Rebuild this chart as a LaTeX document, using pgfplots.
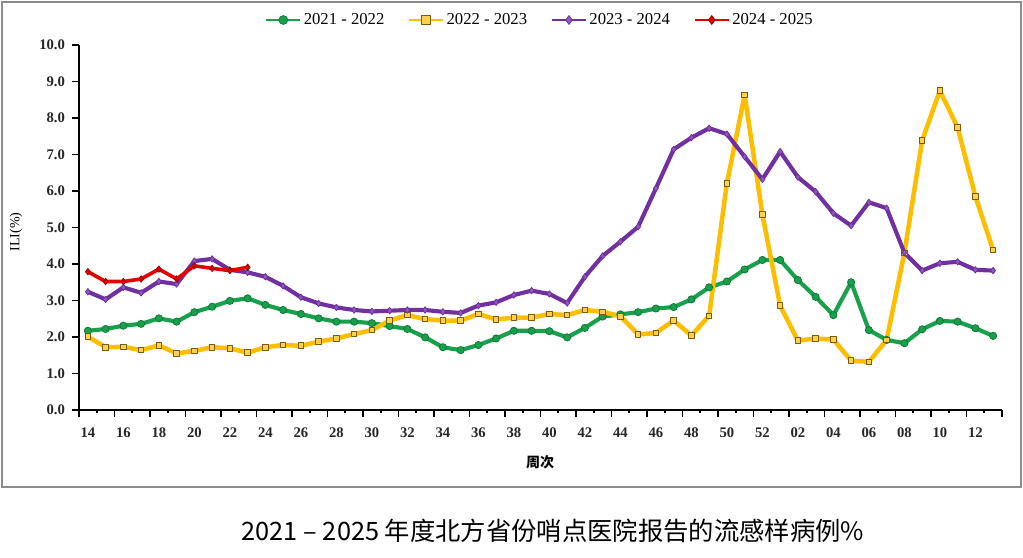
\documentclass[border=0pt]{standalone}
\usepackage{pgfplots}
\pgfplotsset{compat=1.18}
\usepackage{pgfplotstable}
\usepackage{fontspec}
\setmainfont{Liberation Serif}
\newfontfamily\cjk{Noto Sans CJK SC}

\definecolor{cGreen}{RGB}{24,160,76}
\definecolor{cGreenD}{RGB}{16,120,56}
\definecolor{cGold}{RGB}{253,190,0}
\definecolor{cGoldD}{RGB}{120,90,10}
\definecolor{cPurple}{RGB}{112,48,160}
\definecolor{cPurpleL}{RGB}{140,90,190}
\definecolor{cRed}{RGB}{226,0,0}
\definecolor{frameGray}{RGB}{140,140,140}

% weekly ILI (%) by season; idx 0 = week 14, idx 51 = week 13 of the next year
\pgfplotstableread{
idx  s2122 s2223 s2324
0    2.17  2.01  3.24
1    2.22  1.72  3.03
2    2.31  1.73  3.36
3    2.36  1.64  3.21
4    2.51  1.77  3.52
5    2.42  1.55  3.45
6    2.68  1.62  4.08
7    2.83  1.72  4.14
8    2.99  1.69  3.84
9    3.06  1.57  3.77
10   2.88  1.72  3.65
11   2.74  1.78  3.40
12   2.63  1.76  3.09
13   2.51  1.87  2.92
14   2.42  1.96  2.81
15   2.42  2.08  2.74
16   2.38  2.19  2.70
17   2.30  2.45  2.72
18   2.22  2.60  2.74
19   1.99  2.49  2.74
20   1.72  2.45  2.69
21   1.64  2.45  2.66
22   1.78  2.63  2.86
23   1.96  2.48  2.95
24   2.17  2.53  3.15
25   2.17  2.53  3.27
26   2.16  2.63  3.18
27   1.99  2.60  2.93
28   2.25  2.74  3.65
29   2.56  2.69  4.22
30   2.62  2.57  4.61
31   2.68  2.07  5.02
32   2.78  2.11  6.07
33   2.82  2.45  7.14
34   3.03  2.04  7.46
35   3.36  2.58  7.72
36   3.52  6.21  7.56
37   3.85  8.63  6.94
38   4.11  5.36  6.32
39   4.11  2.86  7.08
40   3.56  1.90  6.38
41   3.10  1.96  5.98
42   2.60  1.93  5.39
43   3.50  1.35  5.05
44   2.19  1.32  5.69
45   1.92  1.92  5.53
46   1.83  4.30  4.31
47   2.21  7.38  3.82
48   2.44  8.75  4.02
49   2.42  7.74  4.06
50   2.24  5.85  3.84
51   2.03  4.38  3.82
}\iliPast

\pgfplotstableread{
idx  s2425
0    3.79
1    3.52
2    3.52
3    3.59
4    3.86
5    3.59
6    3.95
7    3.88
8    3.82
9    3.91
}\iliNow

\begin{document}
\begin{tikzpicture}
\path[use as bounding box] (0pt,0pt) rectangle (767.25pt,417.75pt);
\draw[frameGray, line width=1.2pt] (1.5pt,52.5pt) rectangle (765.75pt,416.25pt);

\begin{axis}[
  at={(59.25pt,110.25pt)}, anchor=south west,
  scale only axis, width=692.25pt, height=273.75pt,
  xmin=-0.5, xmax=51.5, ymin=0, ymax=10,
  axis lines*=left,
  axis line style={black, line width=1.5pt},
  clip=false,
  tick align=outside,
  tick style={black, line width=1.2pt},
  major tick length=5pt,
  minor tick length=2.5pt,
  xtick={-0.5,1.5,...,51.5},
  xticklabels={},
  minor xtick={0.5,2.5,...,50.5},
  extra x ticks={0,2,...,50},
  extra x tick labels={14,16,18,20,22,24,26,28,30,32,34,36,38,40,42,44,46,48,50,52,02,04,06,08,10,12},
  extra x tick style={major tick length=0pt},
  ytick={0,1,...,10},
  /pgf/number format/fixed,
  /pgf/number format/fixed zerofill,
  /pgf/number format/precision=1,
  /pgf/number format/assume math mode=true,
  tick label style={font=\bfseries\fontsize{11pt}{12pt}\selectfont, text=black!85},
  xticklabel style={yshift=-9.5pt},
  yticklabel style={xshift=-2pt},
  every axis plot/.append style={line join=round},
  legend columns=4,
  legend style={at={(0.5,1.0685)}, anchor=center, draw=none, fill=none,
    font=\fontsize{12.5pt}{14pt}\selectfont,
    /tikz/every even column/.append style={column sep=16pt}},
  legend image code/.code={
    \draw[mark repeat=2,mark phase=2,#1,line width=1.1pt,mark size=3.3pt]
      plot coordinates {(0cm,0cm) (0.45cm,0cm) (0.9cm,0cm)};
  },
]
\addplot[cGreen, line width=3.1pt, mark=*, mark size=2.7pt,
  mark options={fill=cGreen, draw=cGreenD, line width=0.6pt}]
  table[x=idx, y=s2122] {\iliPast};
\addlegendentry{2021 - 2022}

\addplot[cGold, line width=3.4pt, mark=square*, mark size=2.1pt,
  mark options={fill=cGold!70!white, draw=cGoldD, line width=0.7pt}]
  table[x=idx, y=s2223] {\iliPast};
\addlegendentry{2022 - 2023}

\addplot[cPurple, line width=3.1pt, mark=diamond*, mark size=2.4pt,
  mark options={fill=cPurpleL, draw=cPurple, line width=0.6pt}]
  table[x=idx, y=s2324] {\iliPast};
\addlegendentry{2023 - 2024}

\addplot[cRed, line width=2.7pt, mark=diamond*, mark size=2.4pt,
  mark options={fill=cRed, draw=cRed!70!black, line width=0.6pt}]
  table[x=idx, y=s2425] {\iliNow};
\addlegendentry{2024 - 2025}
\end{axis}

\node[rotate=90] at (12pt,243.75pt) {\fontsize{10.5pt}{12pt}\selectfont ILI(\%)};
\node at (405pt,71.25pt) {\cjk\bfseries\fontsize{10.5pt}{12pt}\selectfont 周次};
\node at (414.75pt,19.5pt) {\cjk\fontsize{19pt}{22pt}\selectfont 2021 – 2025 年度北方省份哨点医院报告的流感样病例\%};
\end{tikzpicture}
\end{document}
